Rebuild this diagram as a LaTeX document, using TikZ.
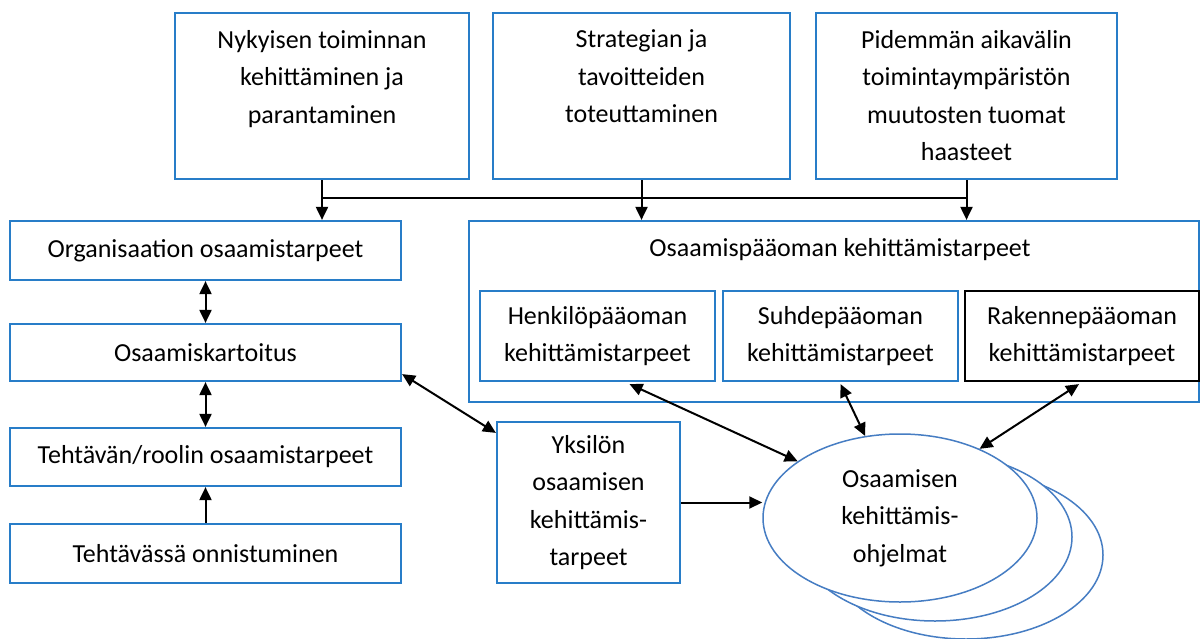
\documentclass[tikz,border=0pt]{standalone}
\usepackage{fontspec}
\setmainfont{Carlito}
\usetikzlibrary{arrows.meta,calc,shapes.geometric}
\definecolor{boxblue}{RGB}{40,125,200}
\definecolor{ellblue}{RGB}{70,125,195}
\begin{document}
\begin{tikzpicture}[x=1pt,y=-1pt,
  every node/.style={font=\fontsize{26}{37.5}\selectfont},
  bx/.style={draw=boxblue,line width=2.2pt,rectangle,inner sep=0pt,align=center},
  txt/.style={inner sep=0pt,align=center},
  link/.style={line width=2pt},
  tip/.style={link,-{Triangle[length=13pt,width=12pt]}},
  tips/.style={link,{Triangle[length=13pt,width=12pt]}-{Triangle[length=13pt,width=12pt]}},
  oval/.style={ellipse,draw=ellblue,line width=1.5pt,fill=white,inner sep=0pt,
    minimum width=274pt,minimum height=168pt,align=center},
]
\useasboundingbox[fill=white] (0,0) rectangle (1201,639);

% top row: sources of the development needs
\node[bx,minimum width=294pt,minimum height=166pt] (nyk) at (322,96) {};
\node[txt,anchor=north] (nyk-t) at ($(nyk.north)+(0,18)$)
  {Nykyisen toiminnan\\kehittäminen ja\\parantaminen};
\node[bx,minimum width=297pt,minimum height=166pt] (strat) at (641.5,96) {};
\node[txt,anchor=north] (strat-t) at ($(strat.north)+(0,18)$)
  {Strategian ja\\tavoitteiden\\toteuttaminen};
\node[bx,minimum width=301pt,minimum height=166pt] (pid) at (966.5,96) {};
\node[txt,anchor=north] (pid-t) at ($(pid.north)+(0,18)$)
  {Pidemmän aikavälin\\toimintaympäristön\\muutosten tuomat\\haasteet};

% left column
\node[bx,minimum width=391pt,minimum height=59pt] (org) at (205.5,250.5) {Organisaation osaamistarpeet};
\node[bx,minimum width=391pt,minimum height=57pt] (kart) at (205.5,352.5) {Osaamiskartoitus};
\node[bx,minimum width=391pt,minimum height=58pt] (teht) at (205.5,457) {Tehtävän/roolin osaamistarpeet};
\node[bx,minimum width=391pt,minimum height=59pt] (onn) at (205.5,553.5) {Tehtävässä onnistuminen};

% intellectual capital block
\node[bx,minimum width=730pt,minimum height=181pt] (opo) at (834,311.5) {};
\node[txt,anchor=base] (opo-t) at (840,256) {Osaamispääoman kehittämistarpeet};
\node[bx,minimum width=235pt,minimum height=90pt] (henk) at (597.5,336) {Henkilöpääoman\\kehittämistarpeet};
\node[bx,minimum width=235pt,minimum height=90pt] (suhde) at (840.5,336) {Suhdepääoman\\kehittämistarpeet};
\node[bx,draw=black,minimum width=234pt,minimum height=90pt] (rak) at (1082,336) {Rakennepääoman\\kehittämistarpeet};

% individual needs and programmes
\node[bx,minimum width=183pt,minimum height=161pt] (yks) at (588.5,502.5) {Yksilön\\osaamisen\\kehittämis-\\tarpeet};
\node[oval] (ell3) at (966,555) {};
\node[oval] (ell2) at (935,537) {};
\node[oval] (ell) at (900,518) {Osaamisen\\kehittämis-\\ohjelmat};

% connectors from the top row
\coordinate (bus) at (0,198);
\draw[link] (nyk.south |- bus) -- (pid.south |- bus);
\draw[tip] (nyk.south) -- (nyk.south |- org.north);
\draw[tip] (strat.south) -- (strat.south |- opo.north);
\draw[tip] (pid.south) -- (pid.south |- opo.north);

% left column connectors
\draw[tips] (org.south) -- (kart.north);
\draw[tips] (kart.south) -- (teht.north);
\draw[tip] (onn.north) -- (teht.south);
\draw[tips] ($(kart.south east)+(0,-8)$) -- ($(yks.north west)+(0,12)$);

% connectors into the programmes
\draw[tip] (yks.east) -- (yks.east -| ell.west);
\draw[tips] ($(henk.south)+(32,2)$) -- (ell.151);
\draw[tips] ($(suhde.south)+(0,2)$) -- (ell.113);
\draw[tips] ($(rak.south)+(-3,2)$) -- (ell.41);
\end{tikzpicture}
\end{document}
